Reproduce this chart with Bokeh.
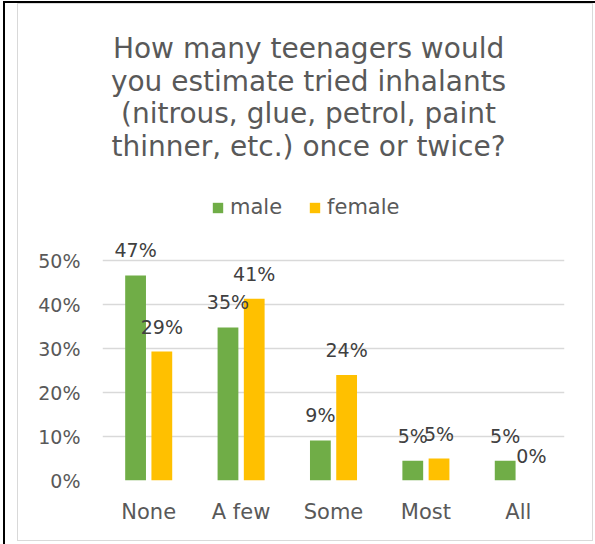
from bokeh.plotting import figure
from bokeh.models import (FactorRange, FixedTicker, NumeralTickFormatter, Legend,
                          LegendItem, ColumnDataSource, Range1d, InlineStyleSheet)
from bokeh.transform import dodge
from bokeh.core.properties import value
from bokeh.embed import file_html
from bokeh.resources import INLINE

# ---- data ----
categories = ["None", "A few", "Some", "Most", "All"]
male = [0.466, 0.348, 0.091, 0.045, 0.045]
female = [0.293, 0.413, 0.240, 0.050, 0.0]
male_labels = ["47%", "35%", "9%", "5%", "5%"]
female_labels = ["29%", "41%", "24%", "5%", "0%"]
y_ticks = [0.0, 0.1, 0.2, 0.3, 0.4, 0.5]
series_names = ["male", "female"]
title_lines = ["How many teenagers would",
               "you estimate tried inhalants",
               "(nitrous, glue, petrol, paint",
               "thinner, etc.) once or twice?"]

# ---- style ----
W, H = 587, 536
FONT = "DejaVu Sans"
GREEN = "#70AD47"
GOLD = "#FFC000"
TXT = "#595959"
LBL = "#404040"
GRID = "#d9d9d9"
PX_PER_UNIT = 440.0          # pixels per 100 %
FRAME_H = 480

src = ColumnDataSource(dict(cat=categories, male=male, female=female,
                            ml=male_labels, fl=female_labels))

p = figure(title=None, x_range=FactorRange(factors=categories),
           y_range=Range1d(0, FRAME_H / PX_PER_UNIT),
           width=W, height=H, output_backend="svg", toolbar_location=None,
           min_border_left=102, min_border_right=23, min_border_top=0,
           min_border_bottom=56)
p.outline_line_color = None
p.background_fill_color = "white"
p.border_fill_color = "white"

css = """
:host { position: relative; overflow: visible; }
:host::after { content: ""; position: absolute; left: 17px; top: 3px;
  width: 576px; height: 538px; border: 1.5px solid #d9d9d9;
  box-sizing: border-box; pointer-events: none; }
:host::before { content: ""; position: absolute; left: 3px; top: 1px;
  width: 600px; height: 560px; border-left: 2px solid #000;
  border-top: 2px solid #000; box-sizing: border-box; pointer-events: none;
  z-index: 2; }
"""
p.stylesheets = [InlineStyleSheet(css=css)]

off = 0.142
bw = 0.225
r_m = p.vbar(x=dodge("cat", -off, range=p.x_range), top="male", width=bw,
             source=src, fill_color=GREEN, line_color=None)
r_f = p.vbar(x=dodge("cat", off, range=p.x_range), top="female", width=bw,
             source=src, fill_color=GOLD, line_color=None)

for col, lab, d in (("male", "ml", -off), ("female", "fl", off)):
    p.text(x=dodge("cat", d, range=p.x_range), y=col, text=lab, source=src,
           text_align="center", text_baseline="middle", y_offset=-25,
           text_font=value(FONT), text_font_size="19px", text_color=LBL)

# title lines (baselines in px from top of frame)
baselines = [48, 81, 113, 146]
p.text(x=[2.23] * 4, y=[(FRAME_H - b) / PX_PER_UNIT for b in baselines],
       text=title_lines, text_align="center", text_baseline="alphabetic",
       text_font=value(FONT), text_font_size="28px", text_color=TXT)

# axes
p.yaxis.ticker = FixedTicker(ticks=y_ticks)
p.yaxis.formatter = NumeralTickFormatter(format="0%")
p.yaxis.axis_line_color = None
p.yaxis.major_tick_line_color = None
p.yaxis.minor_tick_line_color = None
p.yaxis.major_tick_out = 0
p.yaxis.major_tick_in = 0
p.yaxis.major_label_standoff = 22
p.yaxis.major_label_text_font = FONT
p.yaxis.major_label_text_font_size = "19px"
p.yaxis.major_label_text_color = TXT

p.xaxis.axis_line_color = None
p.xaxis.major_tick_line_color = None
p.xaxis.major_tick_out = 0
p.xaxis.major_tick_in = 0
p.xaxis.major_label_standoff = 19
p.xaxis.major_label_text_font = FONT
p.xaxis.major_label_text_font_size = "21px"
p.xaxis.major_label_text_color = TXT

p.ygrid.ticker = FixedTicker(ticks=y_ticks)
p.ygrid.grid_line_color = GRID
p.ygrid.grid_line_width = 1.5
p.xgrid.grid_line_color = None

legend = Legend(items=[LegendItem(label=series_names[0], renderers=[r_m]),
                       LegendItem(label=series_names[1], renderers=[r_f])],
                orientation="horizontal", location=(109, 261),
                glyph_width=13, glyph_height=13, label_standoff=6, spacing=26,
                padding=0, margin=0, border_line_alpha=0,
                background_fill_alpha=0, label_text_font=FONT,
                label_text_font_size="21px", label_text_color=TXT)
p.add_layout(legend)

open("out.html", "w").write(file_html(p, INLINE))
